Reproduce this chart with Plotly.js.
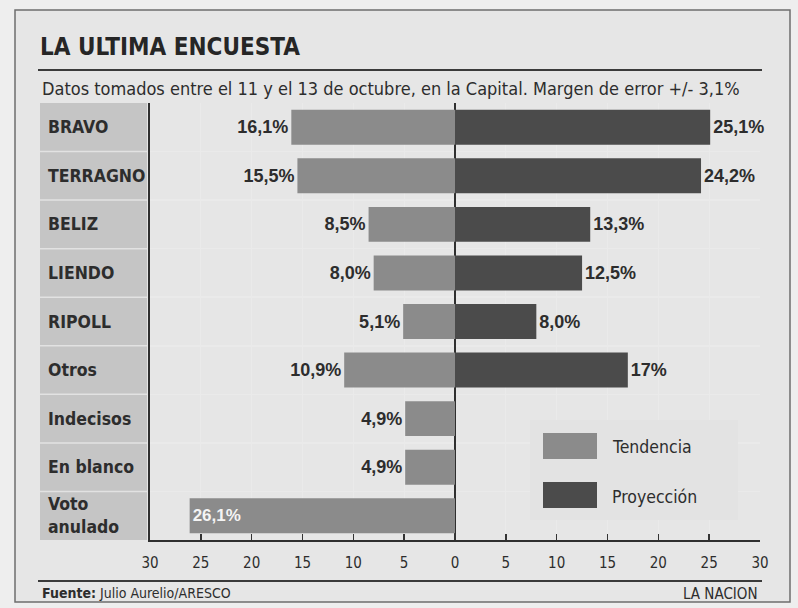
<!DOCTYPE html>
<html>
<head>
<meta charset="utf-8">
<script src="https://cdn.plot.ly/plotly-3.0.1.min.js"></script>
<style>
  html, body { margin: 0; padding: 0; background: #eeeeee; }
  #chart { width: 798px; height: 608px; }
</style>
</head>
<body>
<div id="chart"></div>
<script>
// ---- data ----
const categories = ['BRAVO', 'TERRAGNO', 'BELIZ', 'LIENDO', 'RIPOLL', 'Otros', 'Indecisos', 'En blanco', 'Voto anulado'];
const categoryLabels = ['BRAVO', 'TERRAGNO', 'BELIZ', 'LIENDO', 'RIPOLL', 'Otros', 'Indecisos', 'En blanco', 'Voto<br>anulado'];
const tendencia = [16.1, 15.5, 8.5, 8.0, 5.1, 10.9, 4.9, 4.9, 26.1];
const proyeccion = [25.1, 24.2, 13.3, 12.5, 8.0, 17, null, null, null];
const tendenciaText = ['16,1%', '15,5%', '8,5%', '8,0%', '5,1%', '10,9%', '4,9%', '4,9%', '26,1%'];
const proyeccionText = ['25,1%', '24,2%', '13,3%', '12,5%', '8,0%', '17%', '', '', ''];
const tickValues = [-30, -25, -20, -15, -10, -5, 0, 5, 10, 15, 20, 25, 30];
const tickLabels = ['30', '25', '20', '15', '10', '5', '0', '5', '10', '15', '20', '25', '30'];
const seriesNames = ['Tendencia', 'Proyección'];
const seriesColors = ['#8b8b8b', '#4b4b4b'];

// ---- layout helpers (pixel -> paper) ----
const W = 798, H = 608;
const M = { l: 150, r: 38, t: 103, b: 68 };
const PW = W - M.l - M.r, PH = H - M.t - M.b;
const px = x => (x - M.l) / PW;
const py = y => (H - M.b - y) / PH;

const NARROW = 'DejaVu Sans Condensed, Liberation Sans Narrow, sans-serif';
const SANS = 'Liberation Sans, Arial, sans-serif';
const INK = '#2d2d2d';

const traces = [
  {
    type: 'bar', orientation: 'h', name: seriesNames[0],
    y: categories, x: tendencia.map(v => -v),
    marker: { color: seriesColors[0], line: { width: 0 } },
    text: tendenciaText,
    textposition: tendencia.map(v => v > 20 ? 'inside' : 'outside'),
    insidetextanchor: 'end',
    insidetextfont: { family: SANS, size: 17, color: '#f4f4f4', weight: 700 },
    outsidetextfont: { family: SANS, size: 18, color: INK, weight: 700 },
    constraintext: 'none', cliponaxis: false, hoverinfo: 'y+text'
  },
  {
    type: 'bar', orientation: 'h', name: seriesNames[1],
    y: categories, x: proyeccion,
    marker: { color: seriesColors[1], line: { width: 0 } },
    text: proyeccionText, textposition: 'outside',
    outsidetextfont: { family: SANS, size: 18, color: INK, weight: 700 },
    constraintext: 'none', cliponaxis: false, hoverinfo: 'y+text'
  }
];

const shapes = [];
// outer frame
shapes.push({ type: 'rect', xref: 'paper', yref: 'paper', layer: 'below',
  x0: px(15), x1: px(790), y0: py(602), y1: py(10),
  line: { color: '#6e6e6e', width: 1.5 }, fillcolor: '#e6e6e6' });
// label column
shapes.push({ type: 'rect', xref: 'paper', yref: 'paper', layer: 'below',
  x0: px(40), x1: px(147), y0: 0, y1: 1,
  line: { width: 0 }, fillcolor: '#c5c5c5' });
// row dividers across label column
for (let i = 1; i < categories.length; i++) {
  shapes.push({ type: 'line', xref: 'paper', yref: 'y', layer: 'below',
    x0: px(40), x1: px(147), y0: i - 0.5, y1: i - 0.5,
    line: { color: '#e2e2e2', width: 1.5 } });
}
// title underline & footer line
shapes.push({ type: 'line', xref: 'paper', yref: 'paper', x0: px(38), x1: px(762), y0: py(70), y1: py(70),
  line: { color: '#3a3a3a', width: 2 } });
shapes.push({ type: 'line', xref: 'paper', yref: 'paper', x0: px(38), x1: px(762), y0: py(581), y1: py(581),
  line: { color: '#3a3a3a', width: 2 } });
// legend box and swatches
shapes.push({ type: 'rect', xref: 'paper', yref: 'paper', x0: px(530), x1: px(738), y0: py(520), y1: py(420),
  line: { width: 0 }, fillcolor: '#e3e3e3' });
const swatchY = [[433, 459], [482, 508]];
seriesColors.forEach((c, i) => {
  shapes.push({ type: 'rect', xref: 'paper', yref: 'paper', x0: px(543), x1: px(597),
    y0: py(swatchY[i][1]), y1: py(swatchY[i][0]), line: { width: 0 }, fillcolor: c });
});

const annotations = [];
categories.forEach((c, i) => {
  annotations.push({ xref: 'paper', yref: 'y', x: px(46), y: c, xanchor: 'left', yanchor: 'middle',
    text: categoryLabels[i], showarrow: false, align: 'left',
    font: { family: NARROW, size: 17.5, color: INK, weight: 700 } });
});
annotations.push({ xref: 'paper', yref: 'paper', x: px(40), y: py(88), xanchor: 'left', yanchor: 'middle',
  text: 'Datos tomados entre el 11 y el 13 de octubre, en la Capital. Margen de error +/- 3,1%',
  showarrow: false, font: { family: NARROW, size: 18, color: INK } });
annotations.push({ xref: 'paper', yref: 'paper', x: px(40), y: py(593), xanchor: 'left', yanchor: 'middle',
  text: '<b>Fuente:</b> Julio Aurelio/ARESCO', showarrow: false,
  font: { family: NARROW, size: 14, color: INK } });
annotations.push({ xref: 'paper', yref: 'paper', x: px(760), y: py(594), xanchor: 'right', yanchor: 'middle',
  text: 'LA NACION', showarrow: false, font: { family: NARROW, size: 15, color: INK } });
const legendTextY = [447, 497];
seriesNames.forEach((n, i) => {
  annotations.push({ xref: 'paper', yref: 'paper', x: px(610), y: py(legendTextY[i]), xanchor: 'left', yanchor: 'middle',
    text: n, showarrow: false, font: { family: NARROW, size: 17.5, color: INK } });
});

const layout = {
  width: W, height: H,
  margin: M,
  paper_bgcolor: '#eeeeee',
  plot_bgcolor: '#d4d4d4',
  showlegend: false,
  barmode: 'relative',
  bargap: 0.28,
  title: {
    text: 'LA ULTIMA ENCUESTA',
    xref: 'container', yref: 'container',
    x: 40 / W, xanchor: 'left', y: 1 - 47 / H, yanchor: 'middle',
    font: { family: NARROW, size: 24, color: '#262626', weight: 700 }
  },
  xaxis: {
    range: [-30, 30], fixedrange: true,
    tickvals: tickValues, ticktext: tickLabels,
    tickfont: { family: NARROW, size: 15, color: INK },
    ticks: 'inside', ticklen: 6, tickwidth: 1.5, tickcolor: '#333',
    ticklabelstandoff: 8,
    showgrid: true, gridcolor: '#eaeaea', gridwidth: 1.2,
    zeroline: true, zerolinecolor: '#2f2f2f', zerolinewidth: 2,
    showline: true, linecolor: '#2f2f2f', linewidth: 2
  },
  yaxis: {
    type: 'category', range: [categories.length - 0.5, -0.5], fixedrange: true,
    tickson: 'boundaries', ticks: '', showticklabels: false,
    showgrid: true, gridcolor: '#eaeaea', gridwidth: 1.5,
    showline: true, linecolor: '#2f2f2f', linewidth: 2, zeroline: false
  },
  shapes: shapes,
  annotations: annotations
};

Plotly.newPlot('chart', traces, layout, { displayModeBar: false, staticPlot: true });
</script>
</body>
</html>
